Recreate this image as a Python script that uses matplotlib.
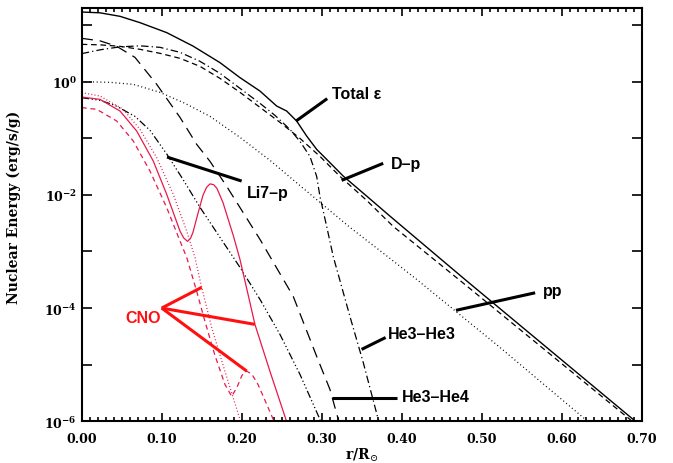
import numpy as np
import matplotlib.pyplot as plt

plt.rcParams['mathtext.fontset'] = 'dejavuserif'

# radius (r/Rsun) and log10 of nuclear energy (erg/s/g)
r_total = [0.0, 0.0229, 0.0479, 0.0729, 0.1063, 0.1391, 0.1729, 0.1979, 0.2229, 0.2438,
           0.2563, 0.2688, 0.2813, 0.2938, 0.3104, 0.3270, 0.3563, 0.3854, 0.4791, 0.6895, 0.70]
log_total = [1.230, 1.216, 1.154, 1.042, 0.866, 0.629, 0.336, 0.071, -0.166, -0.431,
             -0.519, -0.696, -0.961, -1.196, -1.431, -1.668, -2.021, -2.375, -3.493, -5.966, -6.10]

r_dp = [0.0, 0.0229, 0.0479, 0.0729, 0.0979, 0.1229, 0.1479, 0.1729, 0.1979, 0.2229,
        0.2479, 0.2729, 0.2979, 0.3229, 0.3563, 0.3895, 0.4791, 0.6854, 0.695]
log_dp = [0.659, 0.650, 0.624, 0.571, 0.500, 0.412, 0.270, 0.058, -0.189, -0.454,
          -0.719, -1.002, -1.320, -1.673, -2.097, -2.557, -3.582, -5.966, -6.10]

r_pp = [0.0, 0.0354, 0.0645, 0.0979, 0.1291, 0.1604, 0.1979, 0.2354, 0.2770, 0.3354,
        0.3854, 0.4188, 0.5229, 0.6313, 0.64]
log_pp = [0.0, -0.012, -0.048, -0.189, -0.383, -0.613, -0.984, -1.390, -1.885, -2.574,
          -3.122, -3.493, -4.694, -5.984, -6.10]

r_he33 = [0.0, 0.0229, 0.0479, 0.0729, 0.0979, 0.1229, 0.1479, 0.1729, 0.1979, 0.2229,
          0.2416, 0.2604, 0.2729, 0.2854, 0.2938, 0.2979, 0.3063, 0.3145, 0.3354, 0.3520,
          0.3708, 0.375]
log_he33 = [0.495, 0.562, 0.615, 0.633, 0.606, 0.518, 0.359, 0.147, -0.118, -0.383,
            -0.595, -0.843, -1.055, -1.320, -1.673, -2.027, -2.557, -3.087, -4.147, -4.959,
            -5.966, -6.10]

r_he34 = [0.0, 0.0229, 0.0438, 0.0666, 0.0938, 0.1229, 0.1438, 0.1604, 0.1813, 0.2229,
          0.2645, 0.2938, 0.3104, 0.3208, 0.325]
log_he34 = [0.765, 0.721, 0.624, 0.429, -0.048, -0.631, -1.108, -1.408, -1.850, -2.786,
            -3.793, -4.853, -5.437, -5.966, -6.10]

r_li7 = [0.0, 0.0229, 0.0416, 0.0666, 0.0854, 0.1066, 0.1266, 0.1479, 0.1729, 0.1979,
         0.2229, 0.2479, 0.2729, 0.2979, 0.30]
log_li7 = [-0.283, -0.330, -0.419, -0.613, -0.860, -1.284, -1.726, -2.220, -2.751, -3.281,
           -3.846, -4.465, -5.171, -5.966, -6.10]

# CNO contributions (red)
r_cno1 = [0.0, 0.0229, 0.0479, 0.0688, 0.0895, 0.1063, 0.1229, 0.1275, 0.1323, 0.1360,
          0.1391, 0.1454, 0.1516, 0.1560, 0.1604, 0.1650, 0.1691, 0.1766, 0.1895, 0.1979,
          0.2083, 0.2166, 0.2354, 0.2563, 0.26]
log_cno1 = [-0.272, -0.313, -0.519, -0.873, -1.403, -1.991, -2.640, -2.760, -2.822, -2.770,
            -2.663, -2.327, -2.009, -1.870, -1.806, -1.820, -1.885, -2.133, -2.716, -3.140,
            -3.776, -4.288, -5.118, -6.007, -6.10]

r_cno2 = [0.0, 0.0229, 0.0520, 0.0729, 0.0938, 0.1145, 0.1313, 0.1416, 0.1500, 0.1625,
          0.1791, 0.1979, 0.20]
log_cno2 = [-0.194, -0.254, -0.489, -0.843, -1.343, -1.991, -2.640, -3.104, -3.634, -4.341,
            -5.118, -5.966, -6.10]

r_cno3 = [0.0, 0.0188, 0.0438, 0.0645, 0.0854, 0.1063, 0.1229, 0.1313, 0.1438, 0.1541,
          0.1666, 0.1791, 0.1875, 0.1941, 0.2004, 0.2063, 0.2129, 0.2204, 0.2270, 0.2395,
          0.242]
log_cno3 = [-0.459, -0.489, -0.696, -1.049, -1.580, -2.226, -2.816, -3.104, -3.705, -4.235,
            -4.836, -5.348, -5.560, -5.401, -5.189, -5.113, -5.171, -5.348, -5.560, -5.966,
            -6.05]

xticks = [0.0, 0.1, 0.2, 0.3, 0.4, 0.5, 0.6, 0.7]
yexp = [-6, -5, -4, -3, -2, -1, 0, 1]

fig = plt.figure(figsize=(6.73, 4.64), dpi=100)
ax = fig.add_axes([0.1214, 0.0899, 0.8318, 0.8907])

red = '#e8194b'
lw = 0.9
ax.plot(r_total, np.power(10.0, log_total), color='k', lw=1.0)
ax.plot(r_dp, np.power(10.0, log_dp), color='k', lw=lw, dashes=(4.5, 3))
ax.plot(r_pp, np.power(10.0, log_pp), color='k', lw=lw, dashes=(0.8, 2.2))
ax.plot(r_he33, np.power(10.0, log_he33), color='k', lw=lw, dashes=(6, 2.5, 1, 2.5))
ax.plot(r_he34, np.power(10.0, log_he34), color='k', lw=lw, dashes=(9, 5.5))
ax.plot(r_li7, np.power(10.0, log_li7), color='k', lw=lw,
        dashes=(6, 2, 1, 2, 1, 2, 1, 2))
ax.plot(r_cno1, np.power(10.0, log_cno1), color=red, lw=lw)
ax.plot(r_cno2, np.power(10.0, log_cno2), color=red, lw=lw, dashes=(0.8, 1.8))
ax.plot(r_cno3, np.power(10.0, log_cno3), color=red, lw=lw, dashes=(4, 3))

# labels with pointer lines (r, log10 E)
labels = [
    ('Total ε', (0.3125, -0.283), [(0.268, -0.696), (0.307, -0.30)]),
    ('D\u2013p', (0.3866, -1.519), [(0.325, -1.744), (0.377, -1.443)]),
    ('Li7\u2013p', (0.2063, -2.032), [(0.1067, -1.332), (0.200, -1.756)]),
    ('pp', (0.5763, -3.777), [(0.468, -4.04), (0.567, -3.73)]),
    ('He3\u2013He3', (0.3833, -4.523), [(0.350, -4.73), (0.380, -4.52)]),
    ('He3\u2013He4', (0.400, -5.643), [(0.3125, -5.58), (0.394, -5.58)]),
]
for txt, (tx, ty), seg in labels:
    ax.plot([seg[0][0], seg[1][0]], [10 ** seg[0][1], 10 ** seg[1][1]],
            color='k', lw=2.2, solid_capstyle='butt')
    ax.text(tx, 10 ** ty, txt, fontsize=11.5, fontweight='bold',
            family='Liberation Sans', ha='left', va='baseline')

cno_tips = [(0.150, -3.634), (0.2166, -4.288), (0.2063, -5.113)]
for tx, ty in cno_tips:
    ax.plot([0.1, tx], [1e-4, 10 ** ty], color='#ff1010', lw=2.2,
            solid_capstyle='butt')
ax.text(0.0541, 10 ** -4.24, 'CNO', color='#ff1010', fontsize=11.5,
        fontweight='bold', family='Liberation Sans', ha='left', va='baseline')

ax.set_yscale('log')
ax.set_xlim(0, 0.70)
ax.set_ylim(1e-6, 20)

ax.set_xticks(xticks)
ax.set_xticklabels(['%.2f' % v for v in xticks], family='DejaVu Serif',
                   fontweight='bold', fontsize=9)
ax.set_xticks(np.arange(0, 0.7001, 0.01), minor=True)
ax.set_yticks([10.0 ** e for e in yexp])
ax.set_yticklabels([r'$\mathbf{10^{%d}}$' % e if e % 2 == 0 else '' for e in yexp],
                   fontsize=9)
ax.yaxis.set_minor_locator(plt.NullLocator())

ax.tick_params(which='both', direction='in', top=True, right=True, width=1.2,
               color='k')
ax.tick_params(axis='x', which='major', length=6, pad=8)
ax.tick_params(axis='x', which='minor', length=3)
ax.tick_params(axis='y', which='major', length=7.2, pad=3.5)
for s in ax.spines.values():
    s.set_linewidth(1.5)

ax.set_ylabel('Nuclear Energy (erg/s/g)', family='DejaVu Serif',
              fontweight='bold', fontsize=10)
ax.yaxis.set_label_coords(-0.108, 0.521)
ax.set_xlabel(r'$\mathbf{r/R}_{\odot}$', fontsize=10)
ax.xaxis.set_label_coords(0.5, -0.06)

fig.savefig('out.png', dpi=100)
